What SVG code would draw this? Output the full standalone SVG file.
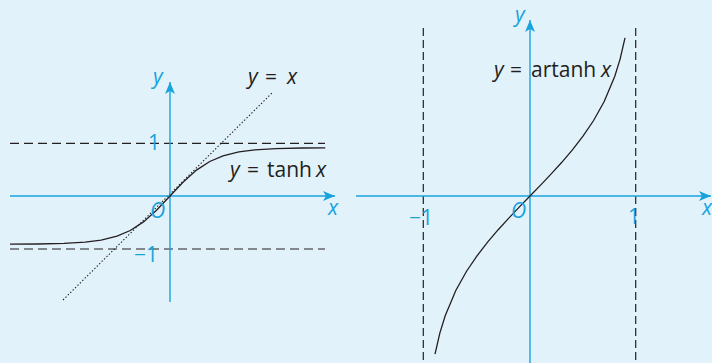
<svg xmlns="http://www.w3.org/2000/svg" width="712" height="363" viewBox="0 0 712 363">
<style>
.axis{stroke:#19a3dd;stroke-width:1.4;fill:none}
.dash{stroke:#231f20;stroke-width:1.2;fill:none;stroke-dasharray:9 5}
.vdash{stroke:#231f20;stroke-width:1.2;fill:none;stroke-dasharray:8 4}
.dot{stroke:#231f20;stroke-width:1.1;fill:none;stroke-dasharray:1.4 2}
.curve{stroke:#231f20;stroke-width:1.3;fill:none}
text{font-family:"Open Sans","Liberation Sans",sans-serif;font-size:21px}
.blue{fill:#19a3dd}
.dark{fill:#231f20}
.it{font-style:italic}
</style>
<defs>
<marker id="arr" viewBox="0 0 12 10" refX="12" refY="5" markerWidth="12" markerHeight="10" markerUnits="userSpaceOnUse" orient="auto">
<path d="M0,0 L12,5 L0,10 L3,5 Z" fill="#19a3dd"/>
</marker>
</defs>
<rect x="0" y="0" width="712" height="363" fill="#e2f2fb"/>

<g id="left-graph">
<g id="left-guides">
<line class="dash" x1="10" y1="143.3" x2="325" y2="143.3"/>
<line class="dash" x1="10" y1="249" x2="325" y2="249"/>
<line class="dot" x1="63" y1="300" x2="273" y2="92"/>
</g>
<g id="left-axes">
<line class="axis" x1="10" y1="196" x2="335" y2="196" marker-end="url(#arr)"/>
<line class="axis" x1="170" y1="302" x2="170" y2="82" marker-end="url(#arr)"/>
</g>
<path id="tanh-curve" class="curve" d="M10,244.2 L37.5,244 L64,243.4 L85.2,242.2 L101.1,240.1 L117,236.2 L130.25,230.5 L143.5,221.9 L156.75,210.05 L170,196 L183.25,181.95 L196.5,170.1 L209.75,161.5 L223,155.8 L238.9,151.9 L254.8,149.8 L276,148.6 L302.5,148 L325.3,147.8"/>
<g id="left-labels">
<text class="blue it" x="153" y="84">y</text>
<text class="dark"><tspan class="it" x="248" y="84">y</tspan><tspan x="265" y="84">=</tspan><tspan class="it" x="287" y="84">x</tspan></text>
<text class="blue" x="148" y="150">1</text>
<text class="blue it" x="150" y="218">O</text>
<text class="blue" x="134" y="262">−1</text>
<text class="blue it" x="328" y="215">x</text>
<text class="dark"><tspan class="it" x="230" y="177">y</tspan><tspan x="247" y="177">=</tspan><tspan x="267" y="177">tanh</tspan><tspan class="it" x="316" y="177">x</tspan></text>
</g>
</g>

<g id="right-graph">
<g id="right-guides">
<line class="vdash" x1="423.3" y1="28" x2="423.3" y2="363"/>
<line class="vdash" x1="635.7" y1="28" x2="635.7" y2="363"/>
</g>
<g id="right-axes">
<line class="axis" x1="356" y1="196" x2="711" y2="196" marker-end="url(#arr)"/>
<line class="axis" x1="530" y1="363" x2="530" y2="20" marker-end="url(#arr)"/>
</g>
<path id="artanh-curve" class="curve" d="M435,354.2 L439.9,332.9 L445.2,315.7 L455.8,290.5 L466.4,271.5 L477,255.9 L487.6,242.2 L498.2,229.7 L508.8,218.1 L519.4,206.9 L530,196 L540.6,185.1 L551.2,173.9 L561.8,162.3 L572.4,149.8 L583,136.1 L593.6,120.5 L604.2,101.5 L614.8,76.3 L620.1,59.1 L625,37.8"/>
<g id="right-labels">
<text class="blue it" x="515" y="22">y</text>
<text class="dark"><tspan class="it" x="494" y="77">y</tspan><tspan x="510" y="77">=</tspan><tspan x="531" y="77">artanh</tspan><tspan class="it" x="601" y="77">x</tspan></text>
<text class="blue" x="409" y="225">−1</text>
<text class="blue it" x="511" y="218">O</text>
<text class="blue" x="628" y="224">1</text>
<text class="blue it" x="702" y="215">x</text>
</g>
</g>
</svg>
